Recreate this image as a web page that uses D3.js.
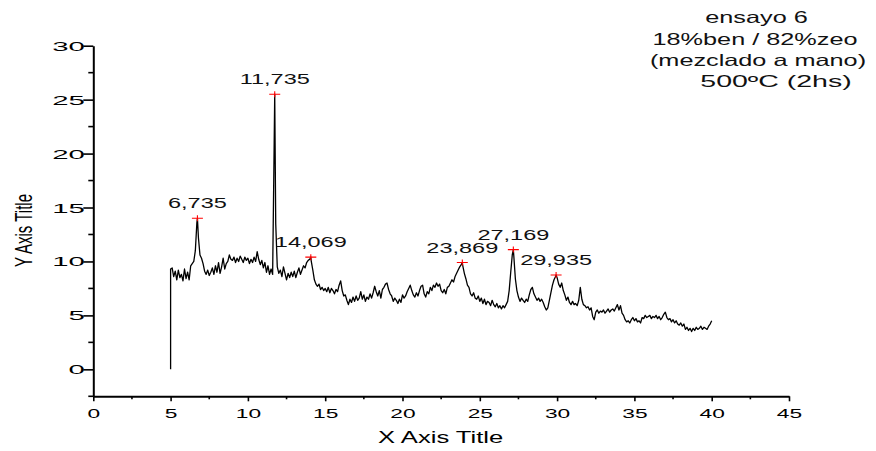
<!DOCTYPE html>
<html>
<head>
<meta charset="utf-8">
<script src="https://cdn.jsdelivr.net/npm/d3@7/dist/d3.min.js"></script>
<style>
  html, body { margin: 0; padding: 0; background: #fff; }
  svg { display: block; font-family: "Liberation Sans", Arial, sans-serif; }
</style>
</head>
<body>
<svg id="chart" width="876" height="451"></svg>
<script>
// Diffractogram: intensity sampled every 0.1 degree from 5.0 to 40.0
const scanStart = 5.0;
const scanStep = 0.1;
const scanFloor = 0;          // detector reading at the very start of the scan
const intensity = [
  9.3, 9.4, 8.6, 9.1, 8.3, 9.2, 8.5, 8.8, 8.2, 9.3,      // 5.x
  8.4, 9.0, 8.3, 9.6, 9.8, 10.0, 11.0, 13.6, 12.2, 10.6, // 6.x
  10.3, 9.8, 9.1, 8.8, 9.2, 8.7, 9.0, 9.4, 8.8, 9.6,     // 7.x
  9.0, 9.9, 8.9, 9.5, 10.3, 9.3, 9.8, 10.0, 10.6, 10.2,  // 8.x
  10.1, 10.4, 9.9, 10.3, 10.0, 10.5, 10.2, 9.9, 10.4, 10.1, // 9.x
  10.3, 9.8, 10.2, 9.9, 10.4, 10.0, 10.9, 10.2, 9.7, 10.1,  // 10.x
  9.4, 9.9, 9.0, 9.6, 8.8, 9.3, 8.8, 21.0, 13.5, 9.5,    // 11.x
  8.9, 9.2, 8.6, 9.5, 8.9, 8.3, 8.9, 8.5, 9.0, 8.6,      // 12.x
  9.1, 8.5, 9.0, 9.4, 8.8, 9.2, 9.6, 9.4, 9.9, 10.1,     // 13.x
  10.2, 10.0, 9.2, 8.3, 7.9, 7.7, 7.9, 7.4, 7.6, 7.3,    // 14.x
  7.5, 7.2, 7.6, 7.1, 7.5, 7.3, 7.0, 7.4, 7.2, 7.8,      // 15.x
  8.2, 7.3, 6.8, 6.9, 6.4, 6.0, 6.5, 6.2, 6.7, 6.3,      // 16.x
  6.8, 6.4, 6.6, 7.2, 6.5, 6.9, 6.3, 6.7, 6.5, 7.0,      // 17.x
  6.6, 7.1, 7.7, 7.2, 6.8, 7.3, 6.6, 7.4, 7.6, 7.9,      // 18.x
  8.0, 7.4, 7.0, 6.8, 6.3, 6.6, 6.4, 6.1, 6.5, 6.2,      // 19.x
  6.9, 6.6, 6.8, 7.2, 7.5, 7.8, 7.3, 6.9, 6.7, 7.1,      // 20.x
  6.8, 7.3, 7.7, 7.8, 7.0, 6.7, 7.2, 7.0, 7.6, 7.3,      // 21.x
  7.8, 7.6, 8.0, 7.7, 7.9, 7.3, 7.1, 7.4, 7.0, 7.6,      // 22.x
  7.7, 8.0, 8.3, 8.1, 8.6, 8.9, 9.2, 9.5, 9.7, 9.6,      // 23.x
  8.9, 8.4, 7.8, 7.6, 7.0, 6.8, 7.1, 6.6, 6.5, 6.8,      // 24.x
  6.3, 6.6, 6.1, 6.5, 6.0, 6.3, 6.2, 5.9, 6.4, 6.0,      // 25.x
  5.8, 6.1, 5.7, 5.9, 5.6, 5.9, 5.7, 6.0, 6.3, 7.3,      // 26.x
  9.0, 10.6, 10.5, 8.4, 7.3, 6.7, 6.3, 6.6, 6.4, 6.2,    // 27.x
  6.5, 6.3, 6.9, 7.4, 7.6, 7.0, 6.7, 6.4, 6.6, 6.3,      // 28.x
  6.5, 6.2, 5.8, 5.5, 5.7, 6.4, 7.1, 7.8, 8.3, 8.6,      // 29.x
  8.5, 7.9, 7.6, 8.0, 7.3, 6.9, 6.4, 6.7, 6.2, 6.0,      // 30.x
  6.3, 6.0, 6.1, 5.9, 6.4, 7.6, 6.5, 6.0, 5.9, 5.7,      // 31.x
  5.8, 5.5, 5.7, 4.9, 4.6, 5.3, 5.5, 5.2, 5.4, 5.3,      // 32.x
  5.5, 5.2, 5.4, 5.6, 5.3, 5.5, 5.6, 5.4, 5.7, 6.0,      // 33.x
  5.5, 5.9, 5.2, 5.0, 4.6, 4.4, 4.5, 4.3, 4.6, 4.8,      // 34.x
  4.5, 4.7, 4.4, 4.5, 4.3, 4.8, 4.7, 5.0, 4.8, 4.9,      // 35.x
  5.0, 4.7, 4.9, 4.8, 5.0, 4.7, 4.9, 4.6, 4.8, 5.1,      // 36.x
  5.3, 4.8, 4.6, 4.7, 4.4, 4.6, 4.3, 4.5, 4.2, 4.1,      // 37.x
  4.3, 4.0, 4.2, 3.7, 3.9, 3.6, 3.8, 3.5, 3.8, 3.6,      // 38.x
  3.9, 3.7, 3.8, 4.0, 3.7, 3.9, 3.8, 3.7, 4.0, 4.2,      // 39.x
  4.5                                                    // 40.0
];

// Picked peaks (2θ position, intensity)
const peakPositions = [6.735, 11.735, 14.069, 23.869, 27.169, 29.935];
const peakIntensities = [14.0, 25.5, 10.4, 9.9, 11.1, 8.74];

const xTicks = [0, 5, 10, 15, 20, 25, 30, 35, 40, 45];
const xMinorTicks = [2.5, 7.5, 12.5, 17.5, 22.5, 27.5, 32.5, 37.5, 42.5];
const yTicks = [0, 5, 10, 15, 20, 25, 30];
const yMinorTicks = [-2.5, 2.5, 7.5, 12.5, 17.5, 22.5, 27.5];

const xTitle = "X Axis Title";
const yTitle = "Y Axis Title";
const noteLines = ["ensayo 6", "18%ben / 82%zeo", "(mezclado a mano)", "500ºC (2hs)"];

// ---------------------------------------------------------------------------
const svg = d3.select("#chart");
const plot = { left: 93.3, right: 789, top: 45.7, bottom: 396.3 };

const x = d3.scaleLinear().domain([0, 45]).range([plot.left, plot.right]);
const y = d3.scaleLinear().domain([-2.5, 30]).range([plot.bottom, plot.top]);

const decimalComma = d3.formatLocale({
  decimal: ",", thousands: ".", grouping: [3], currency: ["", ""]
}).format(".3f");

// Trace points: start reading, regular grid, then the picked peak maxima
const grid = intensity.map((v, i) => [+(scanStart + i * scanStep).toFixed(2), v]);
const peakPoints = peakPositions.map((p, i) => [p, peakIntensities[i]]);
const trace = [[scanStart, scanFloor]].concat(
  grid.concat(peakPoints).sort((a, b) => a[0] - b[0])
);

// Axes ----------------------------------------------------------------------
const axisStroke = (g) => {
  g.select(".domain").attr("stroke", "#000").attr("stroke-width", 2);
  g.selectAll(".tick line").attr("stroke", "#000").attr("stroke-width", 1.6);
};

const gx = svg.append("g").attr("transform", `translate(0,${plot.bottom})`);
gx.call(d3.axisBottom(x).tickValues(xTicks).tickSize(5).tickSizeOuter(0).tickFormat(d3.format("d")))
  .call(axisStroke);
gx.selectAll(".tick text")
  .attr("x", null).attr("y", null).attr("dy", null)
  .attr("transform", "translate(0,22) scale(1.75,1)")
  .attr("text-anchor", "middle")
  .attr("fill", "#000")
  .style("font-size", "13px")
  .style("font-family", "'Liberation Sans', Arial, sans-serif");
gx.selectAll(".minor").data(xMinorTicks).join("line")
  .attr("class", "minor")
  .attr("x1", d => x(d)).attr("x2", d => x(d))
  .attr("y1", 0).attr("y2", 3)
  .attr("stroke", "#000").attr("stroke-width", 1.6);

const gy = svg.append("g").attr("transform", `translate(${plot.left},0)`);
gy.call(d3.axisLeft(y).tickValues(yTicks).tickSize(10).tickSizeOuter(0).tickFormat(d3.format("d")))
  .call(axisStroke);
gy.selectAll(".tick text")
  .attr("x", null).attr("y", null)
  .attr("dy", "0.36em")
  .attr("transform", "translate(-8.5,0) scale(2.35,1)")
  .attr("text-anchor", "end")
  .attr("fill", "#000")
  .style("font-size", "12.5px")
  .style("font-family", "'Liberation Sans', Arial, sans-serif");
gy.selectAll(".minor").data(yMinorTicks).join("line")
  .attr("class", "minor")
  .attr("x1", -5).attr("x2", 0)
  .attr("y1", d => y(d)).attr("y2", d => y(d))
  .attr("stroke", "#000").attr("stroke-width", 1.6);

// Axis titles
svg.append("text")
  .attr("transform", `translate(${(plot.left + plot.right) / 2 - 0.5},443.3) scale(1.57,1)`)
  .attr("text-anchor", "middle")
  .style("font-size", "16.3px")
  .text(xTitle);

svg.append("text")
  .attr("transform", "translate(31.5,230.5) scale(1.56,1) rotate(-90)")
  .attr("text-anchor", "middle")
  .style("font-size", "15px")
  .text(yTitle);

// Trace -----------------------------------------------------------------------
const line = d3.line().x(d => x(d[0])).y(d => y(d[1]));
svg.append("path")
  .datum(trace)
  .attr("d", line)
  .attr("fill", "none")
  .attr("stroke", "#000")
  .attr("stroke-width", 1.3)
  .attr("stroke-linejoin", "round");

// Peak markers and labels ------------------------------------------------------
const peaks = peakPositions.map((p, i) => ({ p, v: peakIntensities[i] }));
const pk = svg.append("g").selectAll("g").data(peaks).join("g")
  .attr("transform", d => `translate(${x(d.p)},${y(d.v)})`);
pk.append("path")
  .attr("d", "M-5.5,0H5.5M0,-3V3")
  .attr("stroke", "#ff0000")
  .attr("stroke-width", 1.1)
  .attr("fill", "none");
pk.append("text")
  .attr("transform", "translate(0,-10) scale(1.68,1)")
  .attr("text-anchor", "middle")
  .style("font-size", "14px")
  .attr("fill", "#111")
  .text(d => decimalComma(d.p));

// Sample note -------------------------------------------------------------------
const noteCenters = [756.5, 755, 758, 776];
const noteBaselines = [23.3, 45, 66.3, 86.7];
const noteStretch = [1.55, 1.55, 1.55, 1.75];
svg.append("g").selectAll("text").data(noteLines).join("text")
  .attr("transform", (d, i) => `translate(${noteCenters[i]},${noteBaselines[i]}) scale(${noteStretch[i]},1)`)
  .attr("text-anchor", "middle")
  .style("font-size", "16.3px")
  .attr("fill", "#111")
  .text(d => d);
</script>
</body>
</html>
